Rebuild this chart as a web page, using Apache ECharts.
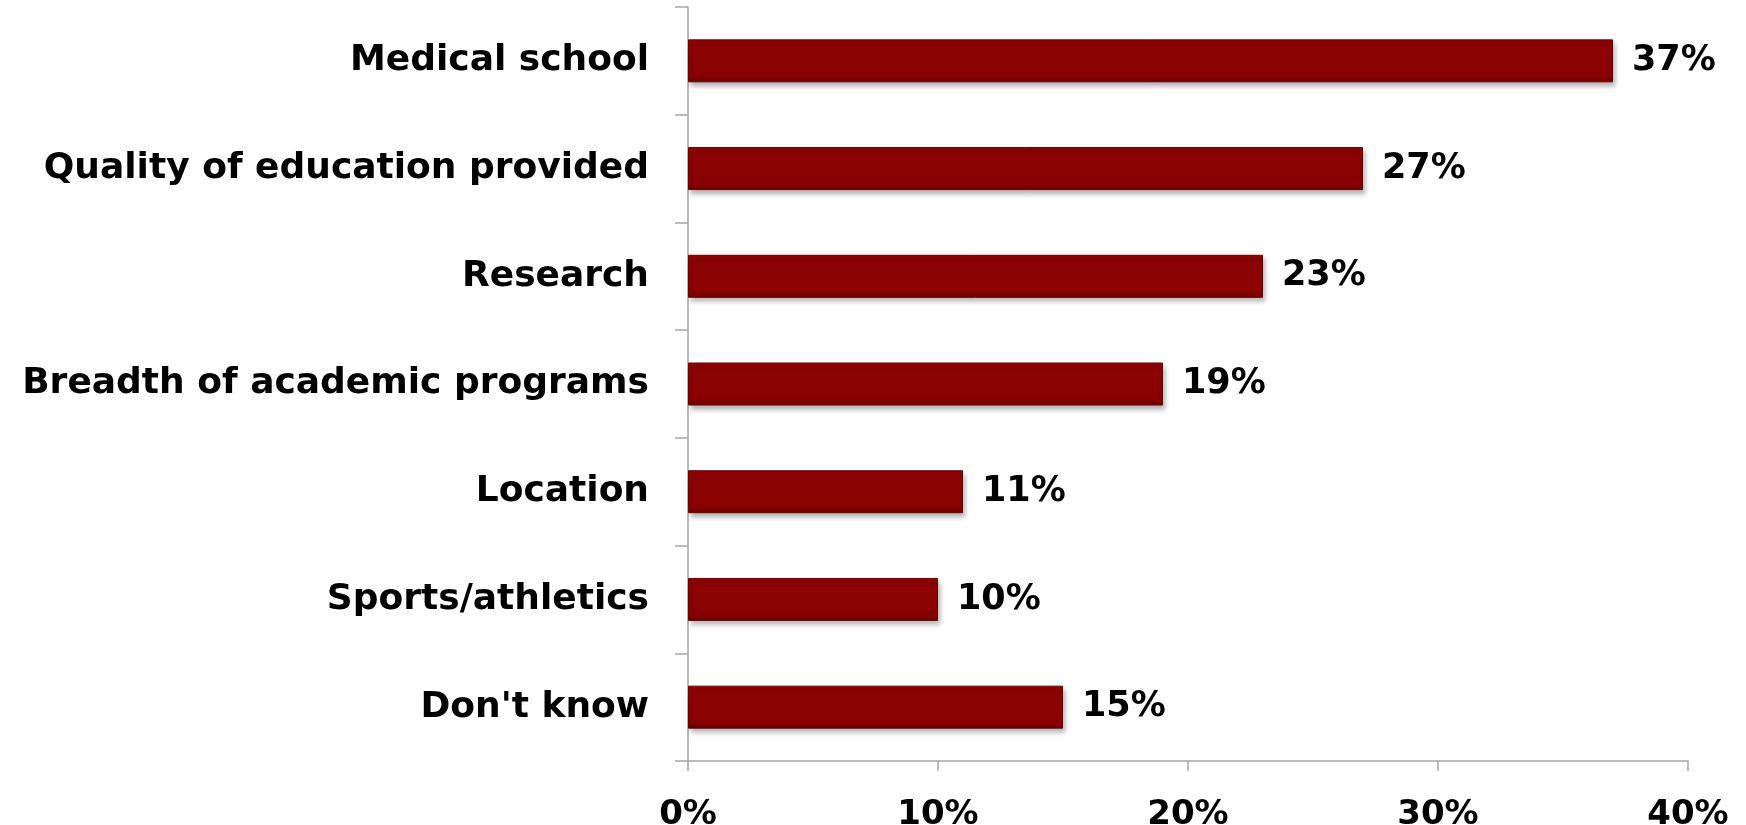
<!DOCTYPE html>
<html>
<head>
<meta charset="utf-8">
<script src="https://cdn.jsdelivr.net/npm/echarts@6/dist/echarts.min.js"></script>
<style>
  html, body { margin: 0; padding: 0; background: #fff; }
  #chart { width: 1746px; height: 825px; }
</style>
</head>
<body>
<div id="chart"></div>
<script>
// categories, top to bottom
var categories = ['Medical school', 'Quality of education provided', 'Research',
  'Breadth of academic programs', 'Location', 'Sports/athletics', "Don't know"];
// percent values
var values = [37, 27, 23, 19, 11, 10, 15];
var xTicks = [0, 10, 20, 30, 40];

var myChart = echarts.init(document.getElementById('chart'));
var font = 'DejaVu Sans, Verdana, sans-serif';

var option = {
  animation: false,
  grid: { left: 688, right: 58, top: 7, bottom: 64, outerBoundsMode: 'none' },
  xAxis: {
    type: 'value',
    min: xTicks[0],
    max: xTicks[xTicks.length - 1],
    interval: 10,
    axisLine: { show: true, lineStyle: { color: '#a6a6a6', width: 1.5 } },
    axisTick: { show: true, length: 10, lineStyle: { color: '#a6a6a6', width: 1.5 } },
    splitLine: { show: false },
    axisLabel: {
      margin: 37,
      color: '#000',
      fontFamily: font,
      fontWeight: 'bold',
      fontSize: 34,
      formatter: '{value}%'
    }
  },
  yAxis: {
    type: 'category',
    inverse: true,
    data: categories,
    axisLine: { show: true, lineStyle: { color: '#a6a6a6', width: 1.5 } },
    axisTick: { show: true, length: 13, lineStyle: { color: '#a6a6a6', width: 1.5 } },
    axisLabel: {
      margin: 39,
      color: '#000',
      fontFamily: font,
      fontWeight: 'bold',
      fontSize: 36
    }
  },
  series: [{
    type: 'bar',
    data: values,
    barWidth: 43,
    itemStyle: {
      color: new echarts.graphic.LinearGradient(0, 0, 0, 1, [
        { offset: 0, color: '#8e0505' },
        { offset: 0.85, color: '#8a0000' },
        { offset: 1, color: '#660000' }
      ]),
      borderColor: '#6e0000',
      borderWidth: 1,
      shadowColor: 'rgba(0,0,0,0.3)',
      shadowBlur: 5,
      shadowOffsetY: 4,
      shadowOffsetX: 2
    },
    label: {
      show: true,
      position: 'right',
      distance: 19,
      color: '#000',
      fontFamily: font,
      fontWeight: 'bold',
      fontSize: 35,
      formatter: '{c}%'
    }
  }]
};
myChart.setOption(option);
</script>
</body>
</html>
